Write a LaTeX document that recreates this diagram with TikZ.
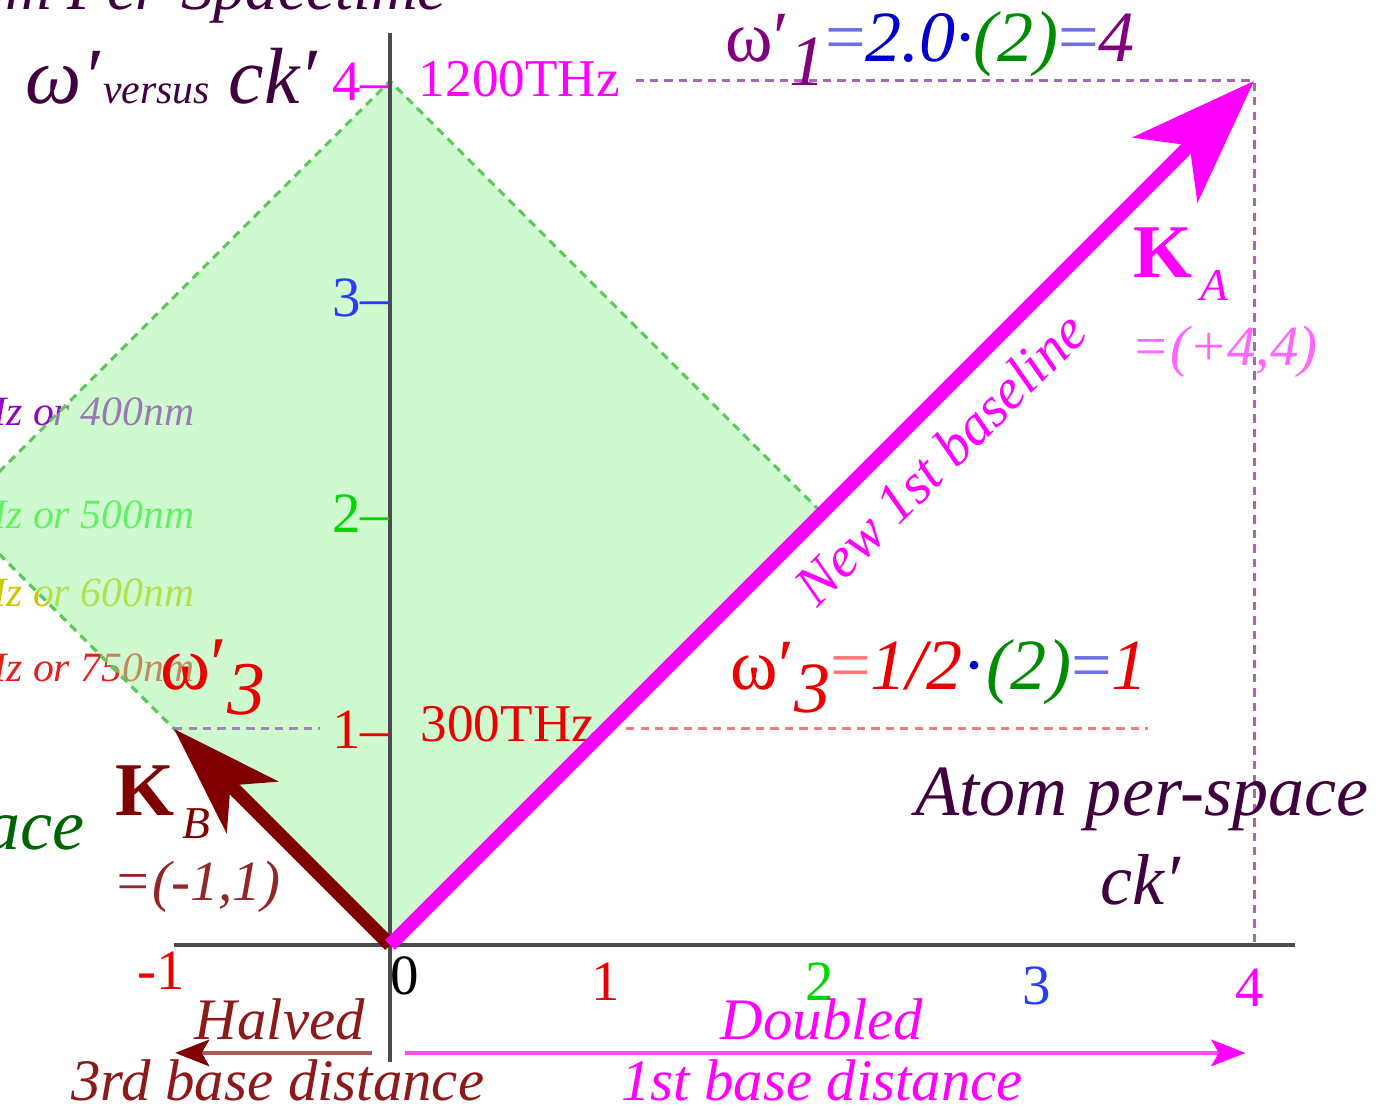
\documentclass[tikz,border=0pt]{standalone}
\usepackage{fontspec}
\setmainfont{Liberation Serif}
\usetikzlibrary{arrows.meta,positioning,calc}
\definecolor{spacetime}{RGB}{64,0,64}
\definecolor{kared}{RGB}{128,0,0}
\definecolor{kamag}{RGB}{255,0,255}
\definecolor{lightfill}{RGB}{160,245,160}
\definecolor{edgegreen}{RGB}{90,200,90}
\definecolor{guidepurple}{RGB}{170,100,185}
\definecolor{guidegray}{RGB}{165,130,185}
\definecolor{tickblue}{RGB}{40,60,255}
\definecolor{tickgreen}{RGB}{0,215,0}
\definecolor{eqgreen}{RGB}{0,140,0}
\definecolor{eqblue}{RGB}{0,0,205}
\definecolor{eqsign}{RGB}{110,110,230}
\definecolor{pinkdash}{RGB}{255,120,120}
\definecolor{wpurple}{RGB}{128,0,128}
\definecolor{wred}{RGB}{235,0,0}
\definecolor{bandviolet}{RGB}{150,0,200}
\definecolor{bandgreen}{RGB}{40,235,40}
\definecolor{bandyellow}{RGB}{200,200,0}
\definecolor{bandred}{RGB}{230,30,30}
\definecolor{acegreen}{RGB}{0,100,0}
\newcommand\fsz[1]{\fontsize{#1}{#1}\selectfont}

\begin{document}
\begin{tikzpicture}[x=2cm, y=2cm,
  every node/.style={inner sep=0pt},
  tick/.style={font=\fsz{15}, anchor=base},
  ytick/.style={font=\fsz{15}, anchor=base east},
  freq/.style={font=\fsz{14}, anchor=base west},
  band/.style={font=\fsz{11}\itshape, anchor=base east},
  eqn/.style={font=\fsz{19}, anchor=base west},
  vec/.style={font=\fsz{20}\bfseries, anchor=base west},
  comp/.style={font=\fsz{15}\itshape, anchor=base west},
  note/.style={font=\fsz{15.5}\itshape, anchor=base},
  axis/.style={line width=1.1pt, black!70},
  guide/.style={line width=0.8pt, dash pattern=on 2.2pt off 1.6pt},
  kvec/.style={line width=3.6pt},
  dist/.style={line width=1pt}
]
\useasboundingbox (-1.806,-0.759) rectangle (4.611,4.375);
\clip (-1.806,-0.759) rectangle (4.611,4.375);

\coordinate (O) at (0,0);
\coordinate (KA) at (4,4);
\coordinate (KB) at (-1,1);

% colour bands, partly hidden by the light cone
\node[band, text=bandviolet] (b400) at (-0.903,2.407) {750THz or 400nm};
\node[band, text=bandgreen] (b500) at (-0.903,1.93) {600THz or 500nm};
\node[band, text=bandyellow] (b600) at (-0.903,1.569) {500THz or 600nm};
\node[band, text=bandred] (b750) at (-0.903,1.218) {400THz or 750nm};
\node[font=\fsz{19}\itshape, text=acegreen, anchor=base east] (pspace) at (-1.412,0.44) {per-space};

\fill[lightfill, fill opacity=0.5] (0,4) -- (2,2) -- (O) -- (-2,2) -- cycle;
\draw[guide, edgegreen] (-2,2) -- (0,4) -- (2,2);
\draw[guide, edgegreen] (-2,2) -- (O);

% axes
\draw[axis] (0,-0.54) -- (0,4.22);
\draw[axis] (-1,0) -- (4.19,0);

\foreach \k/\c in {1/wred,2/tickgreen,3/tickblue,4/kamag}
  \node[ytick, text=\c] (y\k) at (0,{\k-0.09}) {\k–};
\node[freq, text=kamag] (f1200) at (0.13,3.926) {1200THz};
\node[freq, text=wred] (f300) at (0.139,0.94) {300THz};

\node[tick, text=wred] (xm1) at (-1.06,-0.208) {-1};
\node[tick, text=black] (x0) at (0.07,-0.231) {0};
\node[tick, text=wred] (x1) at (1.0,-0.255) {1};
\node[tick, text=tickgreen] (x2) at (1.99,-0.255) {2};
\node[tick, text=tickblue] (x3) at (2.995,-0.278) {3};
\node[tick, text=kamag] (x4) at (3.98,-0.287) {4};

% guide lines
\draw[guide, guidepurple] ([xshift=4pt]f1200.east |- KA) -- (KA) -- (KA |- O);
\draw[guide, guidegray] (KB) -- ([xshift=-3pt]y1.west |- KB);
\draw[guide, pinkdash] ([xshift=8pt]f300.east |- KB) -- (3.51,1);

% wave vectors
\draw[kvec, kared, -{Stealth[length=29pt,width=19pt,inset=8pt]}] (O) -- (KB);
\draw[kvec, kamag, -{Stealth[length=33pt,width=24pt,inset=9pt]}] (O) -- (KA);

\node[font=\fsz{15}\itshape, text=kamag, rotate=45] (base1) at (2.546,2.255) {New 1st baseline};
\node[vec, text=kamag] (ka) at (3.44,3.09) {K\raisebox{-0.3em}{\fsz{12}\mdseries\itshape\,A}};
\node[comp, text=kamag!60] (kaval) at (3.43,2.685) {=(+4,4)};
\node[vec, text=kared] (kb) at (-1.273,0.60) {K\raisebox{-0.3em}{\fsz{12}\mdseries\itshape\,B}};
\node[comp, text=kared!85] (kbval) at (-1.282,0.208) {=(-1,1)};

\node[eqn] (w1) at (1.551,4.088) {\textcolor{wpurple}{ω′\raisebox{-0.32em}{\itshape 1}}\textcolor{eqsign}{=}\textcolor{eqblue}{\itshape 2.0·}\textcolor{eqgreen}{\itshape (2)}\textcolor{eqsign}{=}\textcolor{wpurple}{\itshape 4}};
\node[eqn] (w3) at (1.574,1.181) {\textcolor{wred}{ω′\raisebox{-0.32em}{\itshape 3}}\textcolor{pinkdash}{=}\textcolor{wred}{\itshape 1/2}\textcolor{eqblue}{·}\textcolor{eqgreen}{\itshape (2)}\textcolor{eqsign}{=}\textcolor{wred}{\itshape 1}};
\node[eqn, font=\fsz{20}, text=wred] (w3l) at (-1.065,1.181) {ω′\raisebox{-0.32em}{\itshape 3}};

\node[font=\fsz{19}\itshape, text=spacetime, anchor=base west] (aps) at (2.43,0.60) {Atom per-space};
\node[font=\fsz{19}\itshape, text=spacetime, anchor=base west] (ck) at (3.287,0.185) {ck′};
\node[font=\fsz{21}\itshape, text=spacetime, anchor=base west] (title) at (-1.69,3.898) {ω′\hspace{1pt}{\fsz{11}versus}\hspace{5pt}ck′};
\node[font=\fsz{17}\itshape, text=spacetime, anchor=base east] (ttl) at (0.264,4.33) {Atom Per-Spacetime};

% base distances
\coordinate (hs) at (-0.083,-0.5);
\coordinate (he) at (-0.995,-0.5);
\coordinate (ds) at (0.07,-0.5);
\coordinate (de) at (3.96,-0.5);
\draw[dist, kared!65, -{Stealth[kared,length=9pt,width=7pt,inset=2pt]}] (hs) -- (he);
\draw[dist, kamag!70, -{Stealth[kamag,length=9pt,width=7pt,inset=2pt]}] (ds) -- (de);
\node[note, text=kared!90] (halved) at (-0.51,-0.44) {Halved};
\node[note, text=kared!90] (third) at (-0.52,-0.718) {3rd base distance};
\node[note, text=kamag] (doubled) at (2.0,-0.44) {Doubled};
\node[note, text=kamag] (first) at (2.0,-0.718) {1st base distance};
\end{tikzpicture}
\end{document}
